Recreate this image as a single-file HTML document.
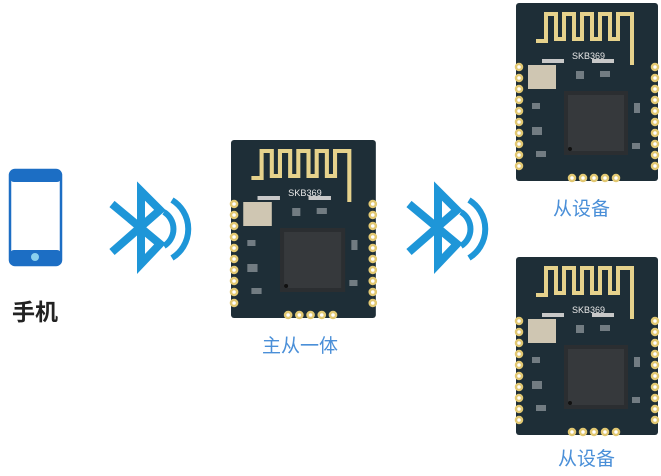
<!DOCTYPE html>
<html><head><meta charset="utf-8"><style>
html,body{margin:0;padding:0;background:#fff;width:661px;height:476px;overflow:hidden}
.l{position:absolute;font-family:"Liberation Sans","Noto Sans CJK SC",sans-serif;white-space:nowrap}
.b{color:#4a8fd8;font-size:19px}
</style></head><body>
<svg width="661" height="476" style="position:absolute;left:0;top:0">
<defs>
<g id="mod">
<rect x="0" y="0" width="142" height="178" rx="3" fill="#1e2e37"/>
<path d="M20 38 H30 V11 H40 V36 H48 V11 H58 V36 H66 V11 H76 V36 H84 V11 H94 V36 H102 V11 H116 V62" fill="none" stroke="#e6d28c" stroke-width="4"/>
<text x="56" y="56" font-family="Liberation Sans" font-size="9" fill="#e8e8e8">SKB369</text>
<rect x="12" y="62" width="28" height="24" fill="#cfc6b2"/>
<rect x="26" y="56" width="22" height="4" fill="#c8c8c8"/>
<rect x="76" y="56" width="22" height="4" fill="#c8c8c8"/>
<rect x="48" y="88" width="64" height="64" fill="#2b2e31"/>
<rect x="52" y="92" width="56" height="56" fill="#36393c"/>
<circle cx="54" cy="146" r="2" fill="#111"/>
<g fill="#aab0b5" opacity=".6">
<rect x="16" y="100" width="8" height="6"/><rect x="16" y="124" width="10" height="8"/><rect x="20" y="148" width="10" height="6"/><rect x="118" y="100" width="6" height="10"/><rect x="116" y="140" width="8" height="6"/><rect x="84" y="68" width="10" height="6"/><rect x="60" y="68" width="8" height="8"/>
</g>
<g fill="#fff" stroke="#e2c872" stroke-width="2.5">
<circle cx="3" cy="64" r="3"/><circle cx="3" cy="75" r="3"/><circle cx="3" cy="86" r="3"/><circle cx="3" cy="97" r="3"/><circle cx="3" cy="108" r="3"/><circle cx="3" cy="119" r="3"/><circle cx="3" cy="130" r="3"/><circle cx="3" cy="141" r="3"/><circle cx="3" cy="152" r="3"/><circle cx="3" cy="163" r="3"/>
<circle cx="139" cy="64" r="3"/><circle cx="139" cy="75" r="3"/><circle cx="139" cy="86" r="3"/><circle cx="139" cy="97" r="3"/><circle cx="139" cy="108" r="3"/><circle cx="139" cy="119" r="3"/><circle cx="139" cy="130" r="3"/><circle cx="139" cy="141" r="3"/><circle cx="139" cy="152" r="3"/><circle cx="139" cy="163" r="3"/>
<circle cx="56" cy="175" r="3"/><circle cx="67" cy="175" r="3"/><circle cx="78" cy="175" r="3"/><circle cx="89" cy="175" r="3"/><circle cx="100" cy="175" r="3"/>
</g>
</g>
<g id="bt" fill="none" stroke="#1e96d8">
<polyline points="4,16 52,56 33,76 33,3 52,22 4,64" stroke-width="8" stroke-linejoin="miter"/>
<path d="M56 24 A20 20 0 0 1 56 58" stroke-width="6"/>
<path d="M64 12 A34 34 0 0 1 64 70" stroke-width="6"/>
</g>
</defs>
<!-- phone -->
<rect x="10" y="170" width="51" height="95" rx="5" fill="#fff" stroke="#1c6ec4" stroke-width="2.5"/>
<rect x="10" y="170" width="51" height="12" rx="4" fill="#1c6ec4"/>
<rect x="10" y="250" width="51" height="15" rx="4" fill="#1c6ec4"/>
<circle cx="35" cy="257" r="4" fill="#8ad0ee"/>
<use href="#bt" x="108" y="188"/>
<use href="#bt" x="405" y="188"/>
<use href="#mod" transform="translate(231,140) scale(1.02,1)"/>
<use href="#mod" x="516" y="3"/>
<use href="#mod" x="516" y="257"/>
</svg>
<div class="l" style="left:12px;top:293px;font-size:23px;font-weight:bold;color:#222">手机</div>
<div class="l b" style="left:262px;top:331px">主从一体</div>
<div class="l b" style="left:553px;top:194px">从设备</div>
<div class="l b" style="left:558px;top:444px">从设备</div>
</body></html>
